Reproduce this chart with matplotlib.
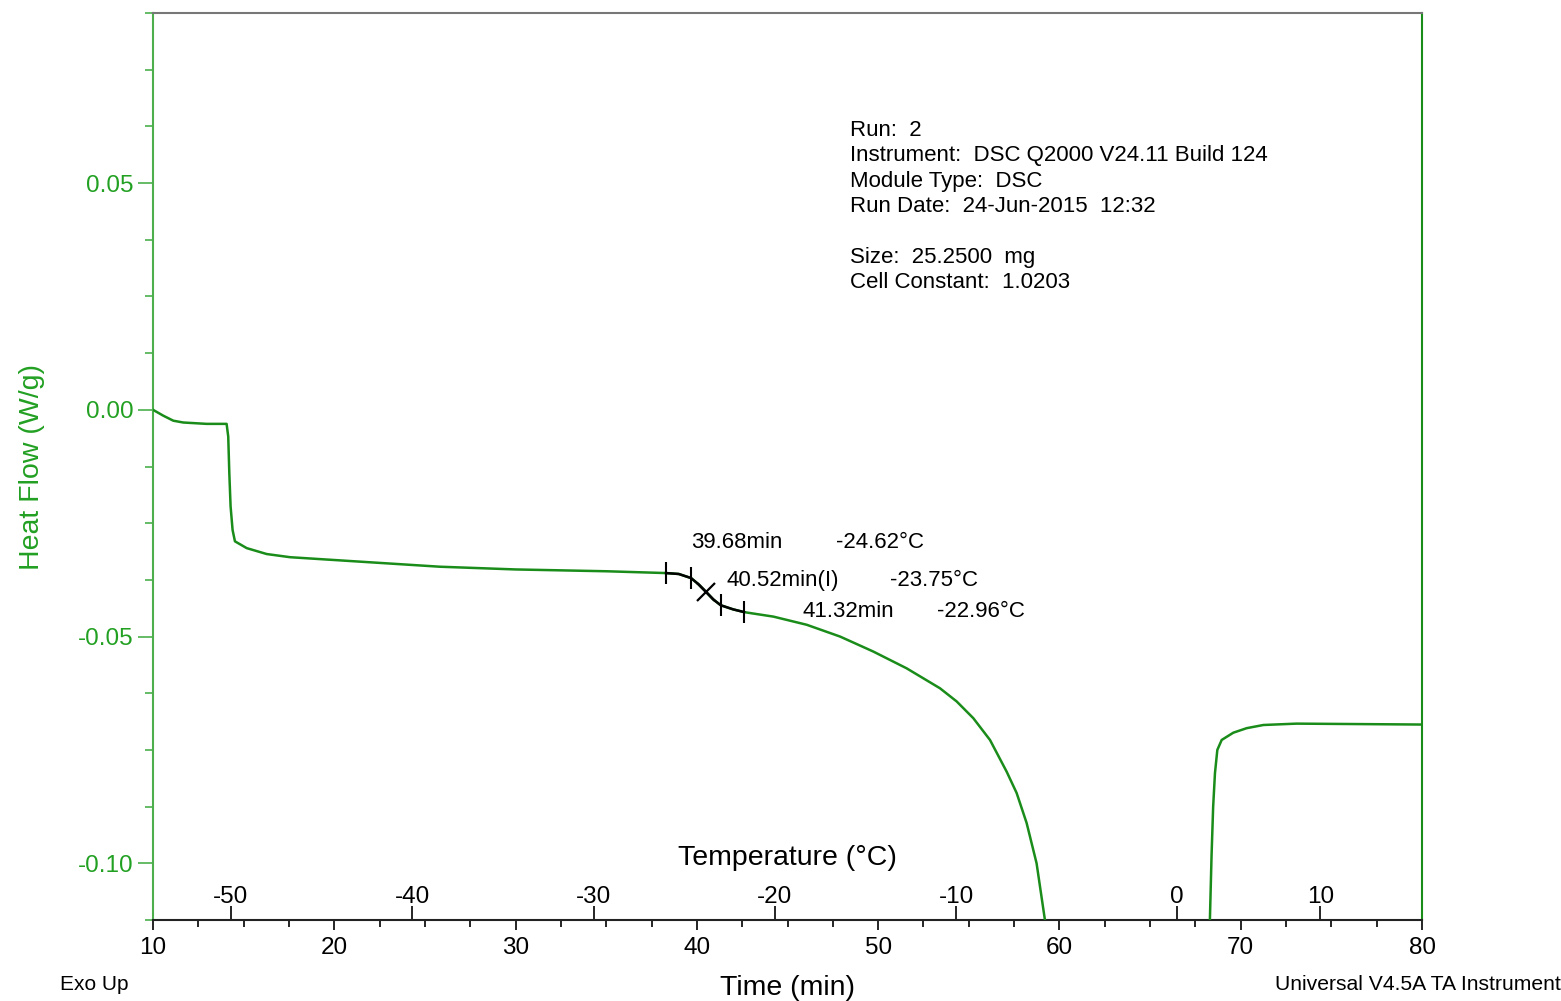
import numpy as np
import matplotlib
matplotlib.use("Agg")
import matplotlib.pyplot as plt
from matplotlib.ticker import MultipleLocator, FormatStrFormatter, NullLocator, FixedLocator

plt.rcParams['font.family'] = ['Liberation Sans', 'DejaVu Sans']
plt.rcParams['axes.unicode_minus'] = False

# ---------------- data ----------------
time_min = [10.0, 10.57, 11.12, 11.67, 12.96, 14.06, 14.15, 14.21, 14.28, 14.39, 14.52,
            15.17, 16.27, 17.56, 20.31, 25.83, 30.0, 35.0, 38.3,
            39.0, 39.68, 40.1, 40.52, 40.9, 41.32, 42.0, 42.6,
            42.75, 44.22, 46.06, 47.90, 49.73, 51.57, 53.41, 54.33, 55.25, 56.17, 57.09, 57.64,
            58.19, 58.74, 59.20, 59.6,
            68.25, 68.30, 68.39, 68.48, 68.58, 68.71, 68.95, 69.59, 70.33, 71.25, 73.08, 80.0]
heat_flow = [0.0, -0.0013, -0.0024, -0.0028, -0.0031, -0.0031, -0.0059, -0.0140, -0.0213, -0.0265, -0.0290,
             -0.0305, -0.0318, -0.0325, -0.0332, -0.0346, -0.0352, -0.0356, -0.0360,
             -0.0362, -0.0371, -0.0385, -0.0402, -0.0418, -0.0431, -0.0440, -0.0446,
             -0.0447, -0.0456, -0.0474, -0.0500, -0.0533, -0.0570, -0.0614, -0.0643, -0.0680, -0.0728, -0.0798, -0.0845,
             -0.0911, -0.1000, -0.1125, -0.1250,
             -0.1250, -0.1125, -0.0985, -0.0875, -0.0801, -0.0750, -0.0728, -0.0712, -0.0702, -0.0695, -0.0692, -0.0694]

# glass transition analysis
analysis_limits = [38.3, 42.6]
onset_end_times = [38.3, 39.68, 41.32, 42.6]
inflection_time = 40.52
label_times = [39.68, 40.52, 41.32]
label_time_text = ["39.68min", "40.52min(I)", "41.32min"]
label_temp_text = ["-24.62°C", "-23.75°C", "-22.96°C"]

# temperature calibration (time -> sample temperature)
cal_time = [10.0, 14.30, 54.30, 66.5, 74.4, 80.0]
cal_temp = [-54.3, -50.0, -10.0, 0.0, 10.0, 17.1]
temp_ticks = [-50, -40, -30, -20, -10, 0, 10]

info_lines = ["Run:  2",
              "Instrument:  DSC Q2000 V24.11 Build 124",
              "Module Type:  DSC",
              "Run Date:  24-Jun-2015  12:32",
              "",
              "Size:  25.2500  mg",
              "Cell Constant:  1.0203"]

# ---------------- style ----------------
GREEN_LINE = '#1a8c1a'
GREEN_TXT = '#22a022'
GREEN_SPINE = '#4caf4c'

fig = plt.figure(figsize=(15.61, 10.01), dpi=100)
ax = fig.add_axes([153/1561, 1-920/1001, (1422-153)/1561, (920-13)/1001])

t = np.array(time_min)
h = np.array(heat_flow)
ax.plot(t, h, color=GREEN_LINE, lw=1.8, zorder=3)
mask = (t >= analysis_limits[0]) & (t <= analysis_limits[1])
ax.plot(t[mask], h[mask], color='black', lw=1.8, zorder=4)

oy = np.interp(onset_end_times, t, h)
ax.plot(onset_end_times, oy, ls='none', marker='|', ms=16, mew=1.5, color='black', zorder=5)
iy = np.interp(inflection_time, t, h)
ax.plot([inflection_time], [iy], ls='none', marker='x', ms=13, mew=1.6, color='black', zorder=5)

# annotations
time_offsets = [(0, 36), (20, 12), (82, -6)]
temp_offsets = [(145, 36), (184, 12), (216, -6)]
ly = np.interp(label_times, t, h)
for x, y, s1, s2, o1, o2 in zip(label_times, ly, label_time_text, label_temp_text, time_offsets, temp_offsets):
    ax.annotate(s1, (x, y), xytext=o1, textcoords='offset pixels', ha='left', va='center', fontsize=16)
    ax.annotate(s2, (x, y), xytext=o2, textcoords='offset pixels', ha='left', va='center', fontsize=16)

ax.set_xlim(10, 80)
ax.set_ylim(-0.1125, 0.0875)

ax.xaxis.set_major_locator(MultipleLocator(10))
ax.xaxis.set_minor_locator(MultipleLocator(2.5))
ax.yaxis.set_major_locator(MultipleLocator(0.05))
ax.yaxis.set_minor_locator(MultipleLocator(0.0125))
ax.yaxis.set_major_formatter(FormatStrFormatter('%.2f'))

ax.tick_params(axis='x', which='major', direction='out', length=7, width=1.2, labelsize=17.5, pad=5, colors='black')
ax.tick_params(axis='x', which='minor', direction='out', length=5, width=1.2)
ax.tick_params(axis='y', which='major', direction='out', length=11, width=1.2, labelsize=17.5, pad=3,
               colors=GREEN_SPINE, labelcolor=GREEN_TXT)
ax.tick_params(axis='y', which='minor', direction='out', length=6, width=1.2, colors=GREEN_SPINE)

ax.spines['left'].set_color(GREEN_SPINE)
ax.spines['right'].set_color(GREEN_LINE)
ax.spines['top'].set_color('#777777')
ax.spines['bottom'].set_color('#222222')
for s in ax.spines.values():
    s.set_linewidth(1.5)

ax.set_ylabel("Heat Flow (W/g)", color=GREEN_TXT, fontsize=20.5, labelpad=24)
ax.set_xlabel("Time (min)", fontsize=20.5, labelpad=12)

# temperature axis
ct = np.array(cal_time)
cT = np.array(cal_temp)
def time_to_temp(x):
    return np.interp(x, ct, cT)
def temp_to_time(x):
    return np.interp(x, cT, ct)

sec = ax.secondary_xaxis(0, functions=(time_to_temp, temp_to_time))
sec.xaxis.set_major_locator(FixedLocator(temp_ticks))
sec.xaxis.set_minor_locator(NullLocator())
sec.xaxis.set_ticks_position('top')
sec.xaxis.set_label_position('top')
sec.tick_params(axis='x', direction='out', length=10, width=1.2, labelsize=17.5, pad=-1.5)
for s in sec.spines.values():
    s.set_visible(False)
sec.set_xlabel("Temperature (°C)", fontsize=20.5, labelpad=15)

fig.text(850/1561, 1-120/1001, "\n".join(info_lines), ha='left', va='top', fontsize=16, linespacing=1.27)
fig.text(60/1561, 1-985/1001, "Exo Up", ha='left', va='center', fontsize=15)
fig.text(1275/1561, 1-985/1001, "Universal V4.5A TA Instruments", ha='left', va='center', fontsize=15.2)

fig.savefig("out.png", dpi=100)
